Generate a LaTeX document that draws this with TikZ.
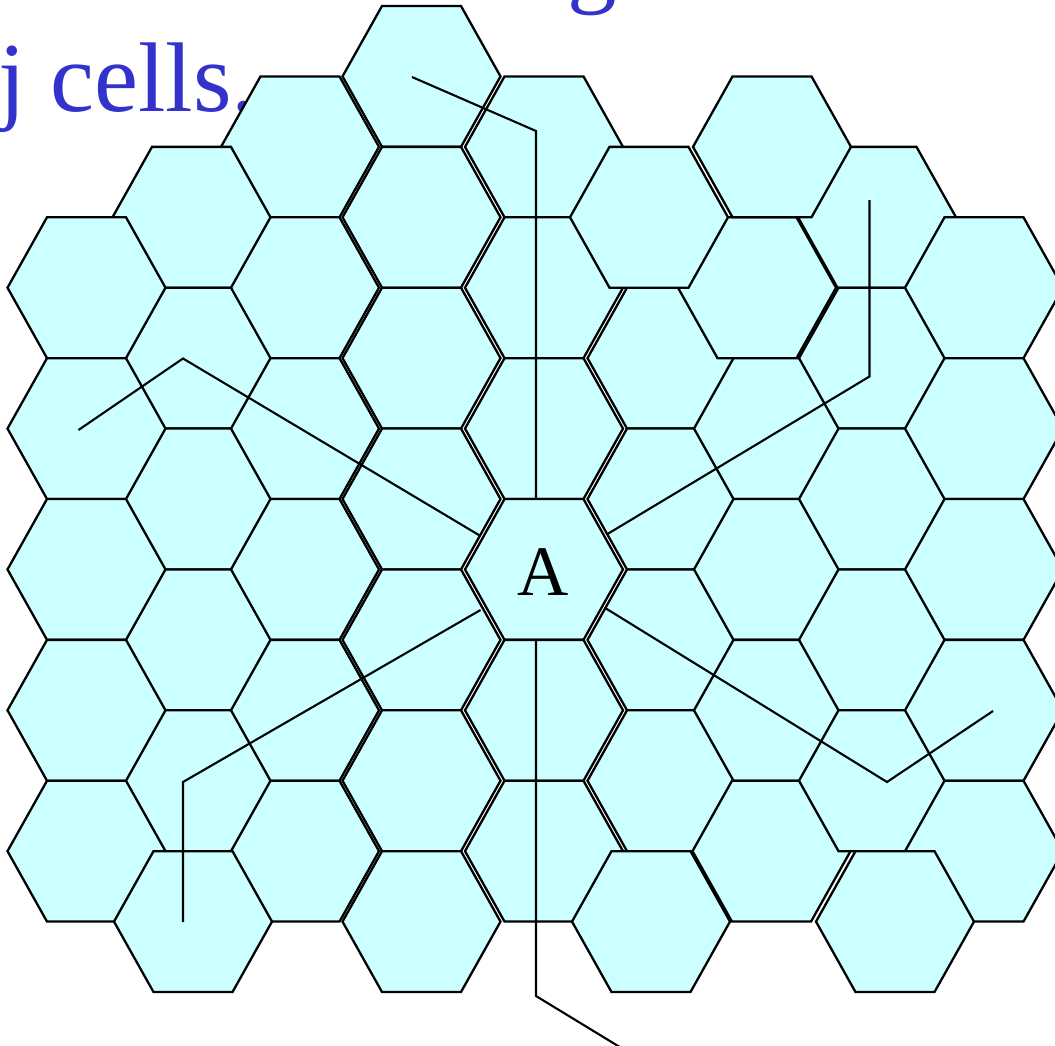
\documentclass[tikz,border=0pt]{standalone}
\usepackage{fontspec}
\setmainfont{Liberation Serif}
\definecolor{cellfill}{RGB}{204,255,255}
\definecolor{txtblue}{RGB}{51,51,204}
\begin{document}
\begin{tikzpicture}[x=1pt,y=-1pt,
  cell/.style={fill=cellfill,draw=black,line width=2.3pt,line join=miter},
  conn/.style={draw=black,line width=2.1pt,line join=miter},
  bluetext/.style={text=txtblue,font=\fontsize{99}{100}\selectfont,inner sep=0pt,anchor=base west},
  hexc/.pic={\path[cell] (-79,0) -- (-39.5,-70.43) -- (39.5,-70.43) -- (79,0) -- (39.5,70.43) -- (-39.5,70.43) -- cycle;}]
\useasboundingbox (0,0) rectangle (1055,1046);
\clip (0,0) rectangle (1055,1046);
% text
\node[bluetext] (jt) at (-2,111.5) {j cells.};
\node[bluetext] (gt) at (567,-5) {g};
% left group
\foreach \k in {2,4,...,12} \pic at (300,{6+70.43*\k}) {hexc};
\foreach \k in {3,5,...,11} \pic at (191.5,{6+70.43*\k}) {hexc};
\foreach \k in {4,6,...,12} \pic at (86.5,{6+70.43*\k}) {hexc};
\pic at (193,{6+70.43*13}) {hexc};
% middle columns
\foreach \k in {1,3,...,13} \pic at (421.5,{6+70.43*\k}) {hexc};
\foreach \k in {2,4,...,12} \pic at (544,{6+70.43*\k}) {hexc};
% right group
\foreach \k in {5,7,...,11} \pic at (666.5,{6+70.43*\k}) {hexc};
\pic at (757,{6+70.43*4}) {hexc};
\foreach \k in {6,8,10} \pic at (773,{6+70.43*\k}) {hexc};
\pic at (771.5,{6+70.43*12}) {hexc};
\pic at (649,{6+70.43*3}) {hexc};
\pic at (651,{6+70.43*13}) {hexc};
\pic at (877,{6+70.43*3}) {hexc};
\foreach \k in {5,7,...,11} \pic at (878,{6+70.43*\k}) {hexc};
\pic at (772,{6+70.43*2}) {hexc};
\foreach \k in {4,6,...,12} \pic at (984,{6+70.43*\k}) {hexc};
\pic at (895,{6+70.43*13}) {hexc};
% centre label
\node[anchor=base,font=\fontsize{71}{72}\selectfont,inner sep=0pt] (A) at (543.5,595) {A};
% connector points
\coordinate (u0) at (536,499);   \coordinate (u1) at (536,131);   \coordinate (u2) at (412,77);
\coordinate (r0) at (607.5,534); \coordinate (r1) at (869.5,376.5); \coordinate (r2) at (869.5,200);
\coordinate (d0) at (606,608.5); \coordinate (d1) at (887,782);   \coordinate (d2) at (993,711);
\coordinate (b0) at (536,640);   \coordinate (b1) at (536,996);   \coordinate (b2) at (623,1049);
\coordinate (l0) at (480.5,610); \coordinate (l1) at (183,782);   \coordinate (l2) at (183,922);
\coordinate (m0) at (480.5,536); \coordinate (m1) at (183,358.5); \coordinate (m2) at (78.5,430);
\draw[conn] (u0) -- (u1) -- (u2);
\draw[conn] (r0) -- (r1) -- (r2);
\draw[conn] (d0) -- (d1) -- (d2);
\draw[conn] (b0) -- (b1) -- (b2);
\draw[conn] (l0) -- (l1) -- (l2);
\draw[conn] (m0) -- (m1) -- (m2);
\end{tikzpicture}
\end{document}
